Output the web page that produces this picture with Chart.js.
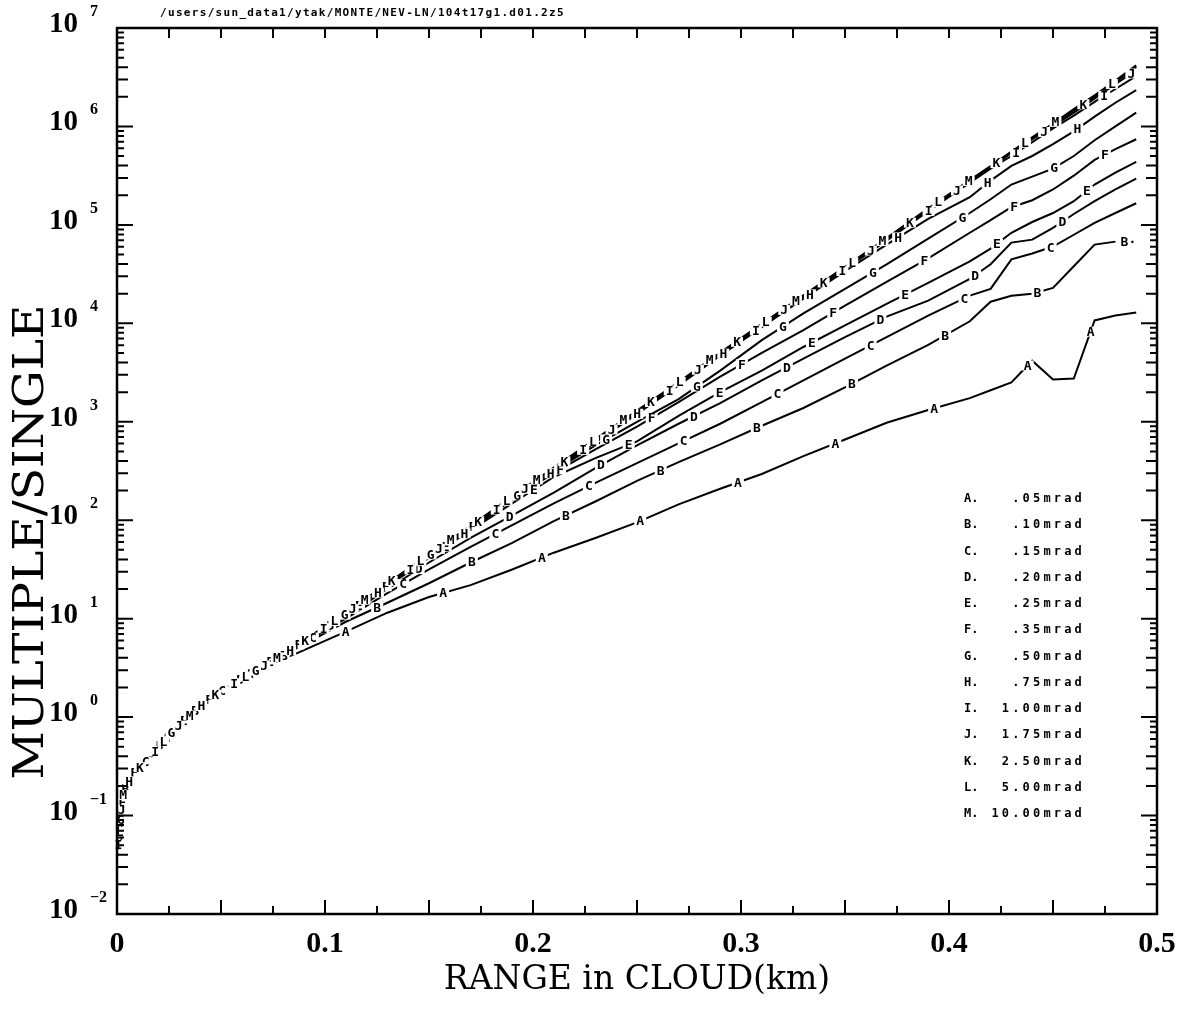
<!DOCTYPE html>
<html>
<head>
<meta charset="utf-8">
<script src="https://cdn.jsdelivr.net/npm/chart.js@4.4.1/dist/chart.umd.min.js"></script>
<style>
  html, body { margin: 0; padding: 0; background: #fff; }
</style>
</head>
<body>
<canvas id="grafico-razao" width="1190" height="1009"></canvas>
<script>
// Dados (RANGE in CLOUD em km, razao MULTIPLE/SINGLE)
const rangeKm = [0.0005, 0.003, 0.008, 0.016, 0.024, 0.034, 0.048, 0.067, 0.088, 0.11, 0.13, 0.15, 0.17, 0.19,
  0.21, 0.23, 0.25, 0.27, 0.29, 0.31, 0.33, 0.35, 0.37, 0.39, 0.41, 0.42, 0.43, 0.44, 0.45, 0.46, 0.47, 0.48, 0.49];

// trecho inicial comum a todas as curvas
const inicio = [0.045, 0.17, 0.27, 0.39, 0.63, 1.0, 1.74];

const serieA = [...inicio, 3.0, 4.6, 7.4, 11.5, 16.6, 21.9, 31.6, 46.8, 66, 95, 145, 209, 295, 447, 661, 977, 1318, 1738, 2089, 2512, 4169, 2692, 2754, 10700, 12000, 12900];
const serieB = [...inicio, 3.0, 5.2, 9.3, 14.5, 22.9, 37.2, 58.9, 97.7, 155, 251, 389, 589, 912, 1380, 2240, 3720, 6030, 10500, 16600, 19100, 20000, 22900, 38000, 63100, 67600, null];
const serieC = [...inicio, 3.0, 5.4, 10, 18.2, 31.6, 53.7, 89.1, 148, 240, 380, 603, 955, 1585, 2630, 4370, 7240, 12000, 19100, 22400, 44700, 51300, 60300, 79400, 105000, 132000, 166000];
const serieD = [...inicio, 3.0, 5.5, 10.5, 20, 37.2, 66.1, 112, 191, 339, 575, 955, 1550, 2630, 4370, 7240, 11700, 17000, 28200, 39800, 66100, 70800, 93300, 129000, 174000, 229000, 295000];
const serieE = [...inicio, 3.0, 5.6, 11, 21.4, 41.7, 79.4, 148, 275, 427, 631, 1150, 2000, 3310, 5750, 9550, 15800, 25700, 42700, 57500, 83200, 107000, 132000, 174000, 257000, 339000, 437000];
const serieF = [...inicio, 3.0, 5.6, 11.2, 21.9, 42.7, 83.2, 162, 302, 525, 891, 1580, 2880, 5010, 8510, 15100, 26300, 45700, 83200, 112000, 151000, 178000, 229000, 316000, 457000, 589000, 741000];
const serieG = [...inicio, 3.0, 5.6, 11.2, 22.4, 43.7, 85.1, 166, 316, 575, 1000, 1700, 3310, 6760, 12600, 22400, 39800, 72400, 132000, 182000, 257000, 309000, 372000, 501000, 724000, 1000000, 1380000];
const serieH = [...inicio, 3.0, 5.5, 11, 21.4, 41.7, 81.3, 162, 316, 617, 1200, 2340, 4680, 9120, 17800, 33900, 63100, 115000, 191000, 282000, 398000, 501000, 661000, 891000, 1260000, 1740000, 2340000];
const serieI = [...inicio, 3.0, 5.6, 11.2, 21.9, 42.7, 83.2, 166, 324, 631, 1230, 2400, 4790, 9330, 18200, 35500, 69200, 138000, 269000, 372000, 501000, 692000, 955000, 1290000, 1780000, 2400000, 3240000];
const serieJ = [...inicio, 3.0, 5.6, 11.2, 22.4, 43.7, 85.1, 170, 331, 646, 1260, 2450, 4900, 9550, 18600, 36300, 70800, 141000, 275000, 380000, 537000, 741000, 1000000, 1380000, 1910000, 2690000, 3720000];
const serieK = [...inicio, 3.0, 5.6, 11.3, 22.6, 44.2, 86, 172, 335, 652, 1270, 2480, 4950, 9650, 18800, 36700, 71500, 143000, 278000, 385000, 545000, 755000, 1040000, 1450000, 2000000, 2820000, 3980000];
const serieL = [...inicio, 3.0, 5.6, 11.3, 22.7, 44.5, 86.5, 173, 338, 660, 1280, 2500, 5000, 9750, 19000, 37200, 72500, 145000, 282000, 390000, 550000, 765000, 1060000, 1470000, 2030000, 2870000, 4070000];
const serieM = [...inicio, 3.0, 5.7, 11.4, 22.9, 45, 87.5, 175, 342, 668, 1300, 2530, 5060, 9880, 19300, 37600, 73300, 147000, 285000, 395000, 556000, 775000, 1070000, 1500000, 2070000, 2920000, 4170000];

const letras = ['A', 'B', 'C', 'D', 'E', 'F', 'G', 'H', 'I', 'J', 'K', 'L', 'M'];
const larguras = ['.05mrad', '.10mrad', '.15mrad', '.20mrad', '.25mrad', '.35mrad', '.50mrad',
  '.75mrad', '1.00mrad', '1.75mrad', '2.50mrad', '5.00mrad', '10.00mrad'];
const series = [serieA, serieB, serieC, serieD, serieE, serieF, serieG, serieH, serieI, serieJ, serieK, serieL, serieM];

// eixos
const xTicks = [0, 0.025, 0.05, 0.075, 0.1, 0.125, 0.15, 0.175, 0.2, 0.225, 0.25, 0.275, 0.3,
  0.325, 0.35, 0.375, 0.4, 0.425, 0.45, 0.475, 0.5];
const xLabelValores = [0, 0.1, 0.2, 0.3, 0.4, 0.5];
const xLabels = ['0', '0.1', '0.2', '0.3', '0.4', '0.5'];
const yDecadas = [-2, -1, 0, 1, 2, 3, 4, 5, 6, 7];
const caminho = '/users/sun_data1/ytak/MONTE/NEV-LN/104t17g1.d01.2z5';

// onde cada curva comeca a receber as letras (px ao longo da curva)
const deslocamentos = [23, 62, 96, 12, 47, 80, 30, 70, 5, 40, 88, 18, 55];
const espacamento = 105;

function rotulosCurvas(chart) {
  const ctx = chart.ctx;
  ctx.save();
  ctx.font = 'bold 13px "DejaVu Sans Mono"';
  ctx.textAlign = 'center';
  ctx.textBaseline = 'middle';
  chart.data.datasets.forEach((ds, i) => {
    const pts = chart.getDatasetMeta(i).data.filter(p => !p.skip);
    let alvo = deslocamentos[i];
    let acum = 0;
    for (let k = 1; k < pts.length; k++) {
      const a = pts[k - 1], b = pts[k];
      const seg = Math.hypot(b.x - a.x, b.y - a.y);
      while (acum + seg >= alvo) {
        const t = (alvo - acum) / seg;
        const x = a.x + t * (b.x - a.x);
        const y = a.y + t * (b.y - a.y);
        ctx.fillStyle = '#fff';
        ctx.fillRect(x - 6, y - 5, 12, 10);
        ctx.fillStyle = '#000';
        ctx.fillText(ds.label, x, y + 1);
        alvo += espacamento;
      }
      acum += seg;
    }
    // a curva B termina com a letra
    if (ds.label === 'B') {
      const fim = pts[pts.length - 1];
      ctx.fillText('B\u00b7', fim.x + 13, fim.y + 1);
    }
  });
  ctx.restore();
}

function moldura(chart) {
  const { ctx, chartArea: a, scales: { x, y } } = chart;
  ctx.save();
  ctx.strokeStyle = '#000';
  ctx.lineWidth = 2;
  ctx.beginPath();
  x.ticks.forEach(t => {
    const px = x.getPixelForValue(t.value);
    const longo = Math.round(t.value * 1000) % 50 === 0;
    ctx.moveTo(px, a.bottom);
    ctx.lineTo(px, a.bottom - (longo ? 14 : 8));
    ctx.moveTo(px, a.top);
    ctx.lineTo(px, a.top + 10);
  });
  y.ticks.forEach(t => {
    const py = y.getPixelForValue(t.value);
    const m = Math.round(t.value / Math.pow(10, Math.floor(Math.log10(t.value) + 1e-9)));
    const len = m === 1 ? 16 : (m <= 4 ? 11 : 7);
    ctx.moveTo(a.left, py);
    ctx.lineTo(a.left + len, py);
    ctx.moveTo(a.right, py);
    ctx.lineTo(a.right - len, py);
  });
  ctx.stroke();
  ctx.lineWidth = 2.5;
  ctx.strokeRect(a.left, a.top, a.right - a.left, a.bottom - a.top);

  // rotulos do eixo y (10 com expoente)
  ctx.fillStyle = '#000';
  ctx.textBaseline = 'alphabetic';
  yDecadas.forEach(e => {
    const py = y.getPixelForValue(Math.pow(10, e));
    ctx.font = 'bold 29px "Liberation Serif"';
    ctx.textAlign = 'right';
    ctx.fillText('10', 78, py + 4);
    ctx.font = 'bold 16px "Liberation Serif"';
    ctx.textAlign = 'left';
    ctx.fillText(e < 0 ? '\u2212' + Math.abs(e) : String(e), 90, py - 12);
  });

  // titulo do eixo y, esticado para a largura da figura
  ctx.save();
  ctx.font = '42px "DejaVu Serif"';
  const w = ctx.measureText('MULTIPLE/SINGLE').width;
  ctx.translate(28 + 15, 542);
  ctx.rotate(-Math.PI / 2);
  ctx.scale(475 / w, 1);
  ctx.textAlign = 'center';
  ctx.fillText('MULTIPLE/SINGLE', 0, 0);
  ctx.restore();

  // caminho do ficheiro no topo
  ctx.font = 'bold 11px "DejaVu Sans Mono"';
  ctx.textAlign = 'left';
  for (let i = 0; i < caminho.length; i++) {
    ctx.fillText(caminho[i], 160 + i * 7.94, 16);
  }

  // legenda dentro do grafico
  ctx.font = 'bold 12px "DejaVu Sans Mono"';
  letras.forEach((l, i) => {
    const py = 502 + i * 26.25;
    ctx.textAlign = 'left';
    ctx.fillText(l + '.', 964, py);
    const txt = larguras[i];
    for (let k = 0; k < txt.length; k++) {
      ctx.fillText(txt[k], 1085 - (txt.length - k) * 10.4, py);
    }
  });
  ctx.restore();
}

const pluginGrafico = {
  id: 'moldura',
  afterDatasetsDraw(chart) {
    rotulosCurvas(chart);
    moldura(chart);
  }
};

document.addEventListener('DOMContentLoaded', function () {
  const ctx = document.getElementById('grafico-razao').getContext('2d');
  new Chart(ctx, {
    type: 'line',
    data: {
      datasets: letras.map((l, i) => ({
        label: l,
        data: rangeKm.map((x, k) => ({ x: x, y: series[i][k] })),
        borderColor: '#000',
        borderWidth: 2,
        pointRadius: 0,
        tension: 0,
        fill: false
      }))
    },
    options: {
      responsive: false,
      animation: false,
      layout: { padding: { top: 28, right: 33, left: 0, bottom: 0 } },
      plugins: {
        legend: { display: false },
        tooltip: { enabled: false },
        title: { display: false }
      },
      scales: {
        x: {
          type: 'linear',
          min: 0,
          max: 0.5,
          afterBuildTicks: s => { s.ticks = xTicks.map(v => ({ value: v })); },
          afterFit: s => { s.height = 95; },
          grid: { display: false, drawTicks: false },
          border: { display: false },
          ticks: {
            autoSkip: false,
            maxRotation: 0,
            padding: 12,
            color: '#000',
            font: { family: '"Liberation Serif"', size: 30, weight: 'bold' },
            callback: function (v) {
              const i = xLabelValores.findIndex(q => Math.abs(q - v) < 1e-9);
              return i >= 0 ? xLabels[i] : '';
            }
          },
          title: {
            display: true,
            text: 'RANGE in CLOUD(km)',
            color: '#000',
            font: { family: '"DejaVu Serif"', size: 33 },
            padding: { top: 0, bottom: 9 }
          }
        },
        y: {
          type: 'logarithmic',
          min: 0.01,
          max: 1e7,
          afterBuildTicks: s => {
            const t = [];
            for (let e = -2; e < 7; e++) {
              for (let m = 1; m <= 9; m++) t.push({ value: m * Math.pow(10, e) });
            }
            t.push({ value: 1e7 });
            s.ticks = t;
          },
          afterFit: s => { s.width = 117; },
          grid: { display: false, drawTicks: false },
          border: { display: false },
          ticks: { display: false }
        }
      }
    },
    plugins: [pluginGrafico]
  });
});
</script>
</body>
</html>
